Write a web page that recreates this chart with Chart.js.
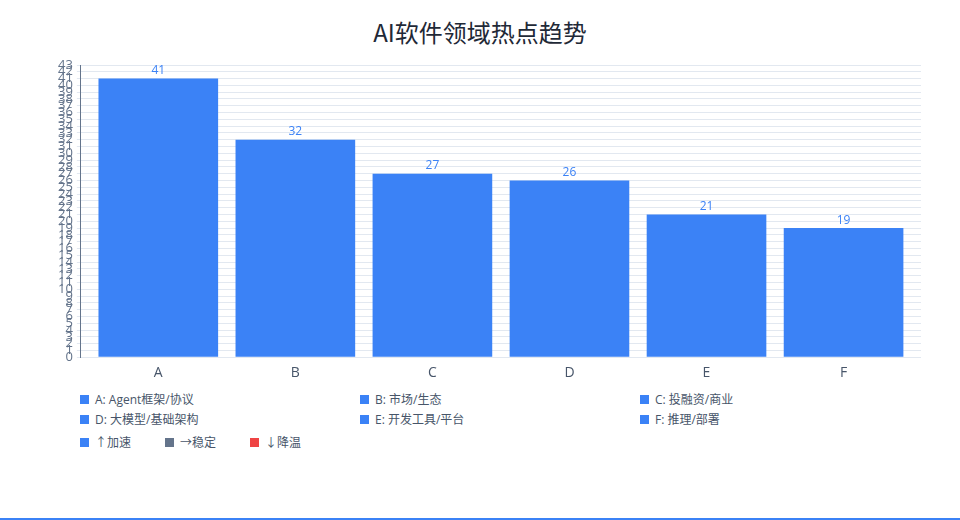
<!DOCTYPE html>
<html>
<head>
<meta charset="utf-8">
<style>
  html, body { margin: 0; padding: 0; background: #fff; }
  body { width: 960px; height: 520px; position: relative; overflow: hidden;
         font-family: "Open Sans", "Noto Sans CJK SC", sans-serif; }
  .title { position: absolute; left: 0; top: 17px; width: 960px; text-align: center;
           font: 24px/30px "Noto Sans CJK SC", sans-serif; color: #1f2937; }
  #wrap { position: absolute; left: 0; top: 0; width: 960px; height: 388px; }
  .legend { position: absolute; left: 80px; top: 389px; width: 840px; font-size: 12px; color: #475569; }
  .row { display: flex; height: 20px; align-items: center; }
  .row .item { width: 280px; display: flex; align-items: center; }
  .row.trend { margin-top: 3px; }
  .row.trend .item { width: 85px; }
  .sw { width: 9px; height: 9px; margin-right: 6px; display: inline-block; }
  .bottom { position: absolute; left: 0; bottom: 0; width: 960px; height: 2px; background: #3b82f6; }
</style>
</head>
<body>
<div class="title">AI软件领域热点趋势</div>
<div id="wrap"><canvas id="hotChart"></canvas></div>
<div class="legend" id="legend"></div>
<div class="bottom"></div>

<script src="https://cdn.jsdelivr.net/npm/chart.js"></script>
<script>
  // 领域分类与热度
  const categories = ['A', 'B', 'C', 'D', 'E', 'F'];
  const categoryNames = ['Agent框架/协议', '市场/生态', '投融资/商业', '大模型/基础架构', '开发工具/平台', '推理/部署'];
  const heatValues = [41, 32, 27, 26, 21, 19];
  const trendLabels = ['↑加速', '→稳定', '↓降温'];
  const trendColors = ['#3b82f6', '#64748b', '#ef4444'];
  const barColor = '#3b82f6';
  const yMax = 43;

  const fontFamily = '"Open Sans", "Noto Sans CJK SC", sans-serif';

  // 柱顶数值
  const valueLabels = {
    id: 'valueLabels',
    afterDatasetsDraw(chart) {
      const ctx = chart.ctx;
      const meta = chart.getDatasetMeta(0);
      ctx.save();
      ctx.font = '12px ' + fontFamily;
      ctx.fillStyle = barColor;
      ctx.textAlign = 'center';
      ctx.textBaseline = 'bottom';
      meta.data.forEach((bar, i) => {
        ctx.fillText(String(heatValues[i]), bar.x, bar.y - 2);
      });
      ctx.restore();
    }
  };

  const ctx = document.getElementById('hotChart').getContext('2d');
  new Chart(ctx, {
    type: 'bar',
    data: {
      datasets: [{
        label: '热度',
        data: heatValues.map((v, i) => ({ x: i, y: v })),
        backgroundColor: barColor,
        barPercentage: 0.97,
        categoryPercentage: 0.9
      }]
    },
    options: {
      responsive: true,
      maintainAspectRatio: false,
      animation: false,
      layout: { padding: { left: 54, right: 39, top: 65, bottom: 0 } },
      plugins: {
        legend: { display: false },
        tooltip: { enabled: false },
        title: { display: false }
      },
      scales: {
        x: {
          type: 'linear',
          offset: false,
          min: -0.565,
          max: categories.length - 1 + 0.565,
          grid: { display: false, drawTicks: false },
          border: { display: false },
          ticks: {
            stepSize: 1,
            includeBounds: false,
            color: '#475569',
            font: { size: 14, family: fontFamily },
            padding: 7,
            callback: (v) => Number.isInteger(v) ? categories[v] : ''
          }
        },
        y: {
          min: 0,
          max: yMax,
          border: { color: '#64748b' },
          grid: { color: '#e2e8f0', tickLength: 4 },
          ticks: {
            stepSize: 1,
            autoSkip: false,
            color: '#64748b',
            font: { size: 13, family: fontFamily },
            padding: 4
          }
        }
      }
    },
    plugins: [valueLabels]
  });

  // 图例
  const legend = document.getElementById('legend');
  let html = '';
  for (let r = 0; r < 2; r++) {
    html += '<div class="row">';
    for (let c = 0; c < 3; c++) {
      const i = r * 3 + c;
      html += '<div class="item"><span class="sw" style="background:' + barColor + '"></span>' +
              categories[i] + ': ' + categoryNames[i] + '</div>';
    }
    html += '</div>';
  }
  html += '<div class="row trend">';
  trendLabels.forEach((t, i) => {
    html += '<div class="item"><span class="sw" style="background:' + trendColors[i] + '"></span>' + t + '</div>';
  });
  html += '</div>';
  legend.innerHTML = html;
</script>
</body>
</html>
